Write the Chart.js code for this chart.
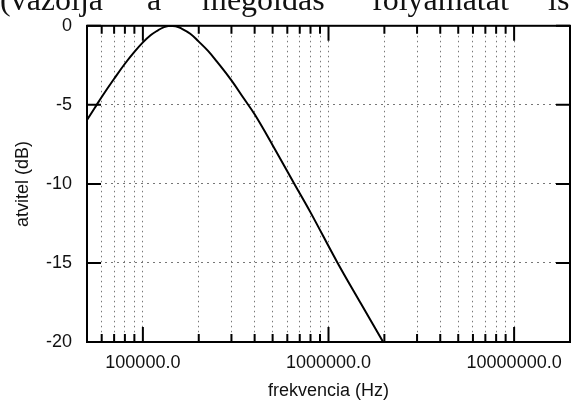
<!DOCTYPE html>
<html>
<head>
<meta charset="utf-8">
<script src="https://cdn.jsdelivr.net/npm/chart.js@4/dist/chart.umd.min.js"></script>
<style>
    html, body { margin: 0; padding: 0; background: #fff; }
    #wrap { position: relative; width: 572px; height: 400px; overflow: hidden; }
    #chart { position: absolute; left: 0; top: 0; }
    .word {
        position: absolute;
        top: -17px;
        font-family: "Liberation Serif", "DejaVu Serif", serif;
        font-size: 32px;
        line-height: 32px;
        color: #111;
        white-space: nowrap;
    }
</style>
</head>
<body>
<div id="wrap">
    <canvas id="chart" width="572" height="400"></canvas>
    <span class="word" style="left:0px">(vázolja</span>
    <span class="word" style="left:147px">a</span>
    <span class="word" style="left:202px">megoldás</span>
    <span class="word" style="left:372px">folyamatát</span>
    <span class="word" style="left:548px">is</span>
</div>
<script>
// mért pontok
const freqHz = [50000, 55000, 60000, 70000, 80000, 90000, 100000, 110000, 120000, 130000,
    140000, 150000, 160000, 180000, 200000, 225000, 250000, 300000, 350000, 400000,
    500000, 655000, 800000, 1120000, 1500000, 1970000];
const gainDb = [-5.95, -5.2, -4.5, -3.35, -2.4, -1.65, -1.05, -0.6, -0.3, -0.08,
    0, -0.03, -0.15, -0.5, -1.0, -1.6, -2.25, -3.45, -4.6, -5.6,
    -7.55, -10.0, -11.8, -15.0, -17.6, -20.0];

// tengely beosztás
const xTicks = [60000, 70000, 80000, 90000,
    100000, 200000, 300000, 400000, 500000, 600000, 700000, 800000, 900000,
    1000000, 2000000, 3000000, 4000000, 5000000, 6000000, 7000000, 8000000, 9000000,
    10000000];
const xMajor = [100000, 1000000, 10000000];
const yTicks = [-20, -15, -10, -5, 0];

const points = freqHz.map((f, i) => ({ x: f, y: gainDb[i] }));

// keret + befelé mutató osztásjelek
const frameTicks = {
    id: "frameTicks",
    afterDraw(chart) {
        const ctx = chart.ctx;
        const a = chart.chartArea;
        const xs = chart.scales.x;
        const ys = chart.scales.y;
        ctx.save();
        ctx.strokeStyle = "#000";
        ctx.lineWidth = 2;
        xTicks.forEach(v => {
            const px = xs.getPixelForValue(v);
            const len = xMajor.includes(v) ? 15 : 8;
            ctx.beginPath();
            ctx.moveTo(px, a.bottom);
            ctx.lineTo(px, a.bottom - len);
            ctx.moveTo(px, a.top);
            ctx.lineTo(px, a.top + len);
            ctx.stroke();
        });
        yTicks.forEach(v => {
            const py = ys.getPixelForValue(v);
            ctx.beginPath();
            ctx.moveTo(a.left, py);
            ctx.lineTo(a.left + 14, py);
            ctx.moveTo(a.right, py);
            ctx.lineTo(a.right - 14, py);
            ctx.stroke();
        });
        ctx.strokeRect(a.left, a.top, a.right - a.left, a.bottom - a.top);
        ctx.restore();
    }
};

new Chart(document.getElementById("chart"), {
    type: "line",
    data: {
        datasets: [{
            data: points,
            borderColor: "#000",
            borderWidth: 2,
            pointRadius: 0,
            fill: false,
            tension: 0.4
        }]
    },
    options: {
        responsive: false,
        animation: false,
        layout: { padding: { top: 21, right: 2, left: 0, bottom: 0 } },
        plugins: {
            legend: { display: false },
            tooltip: { enabled: false }
        },
        scales: {
            x: {
                type: "logarithmic",
                min: 50000,
                max: 20000000,
                afterBuildTicks: scale => {
                    scale.ticks = xTicks.map(v => ({ value: v }));
                },
                afterFit: scale => { scale.height = 58; },
                ticks: {
                    autoSkip: false,
                    maxRotation: 0,
                    padding: 10,
                    color: "#111",
                    font: { family: "Liberation Sans", size: 18 },
                    callback: v => xMajor.includes(v) ? v.toFixed(1) : ""
                },
                grid: { color: "#777", lineWidth: 1, drawTicks: false },
                border: { display: false, dash: [1.5, 3.5] },
                title: {
                    display: true,
                    text: "frekvencia (Hz)",
                    color: "#111",
                    font: { family: "Liberation Sans", size: 18, lineHeight: 1 },
                    padding: { top: 0, bottom: 0 }
                }
            },
            y: {
                min: -20,
                max: 0,
                afterBuildTicks: scale => {
                    scale.ticks = yTicks.map(v => ({ value: v }));
                },
                afterFit: scale => { scale.width = 87; },
                ticks: {
                    padding: 15,
                    color: "#111",
                    font: { family: "Liberation Sans", size: 18 }
                },
                grid: { color: "#777", lineWidth: 1, drawTicks: false },
                border: { display: false, dash: [2, 4] },
                title: {
                    display: true,
                    text: "atvitel (dB)",
                    color: "#111",
                    font: { family: "Liberation Sans", size: 18, lineHeight: 1 },
                    padding: { top: 14, bottom: 0 }
                }
            }
        }
    },
    plugins: [frameTicks]
});
</script>
</body>
</html>
